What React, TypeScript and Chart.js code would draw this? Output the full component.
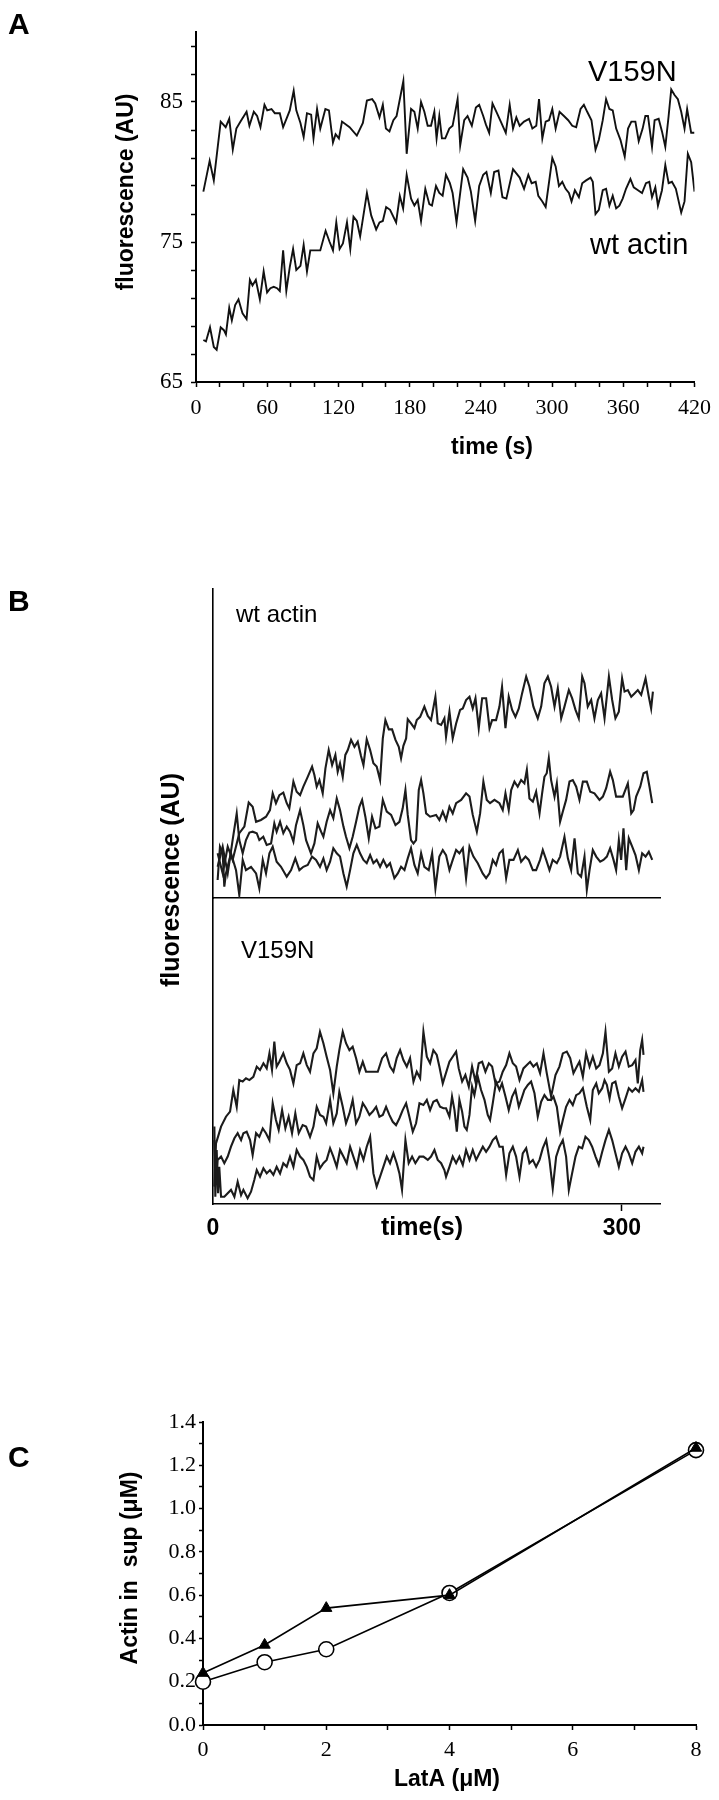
import React, { useEffect, useRef } from 'react';
import { Chart, registerables } from 'chart.js';

Chart.register(...registerables);

const SERIF = '"Liberation Serif", "Times New Roman", serif';
const SANS = '"Liberation Sans", Arial, Helvetica, sans-serif';

// ---------------- Panel A: fluorescence (AU) vs time (s) ----------------
const aV159NTime = [6.2,11.5,15,20.8,25,28,31,34,37.5,42.6, 45,48.7,51.5,54.3,57.7,60,63.6,66.4,68,70.6, 73.4,76.7,79,82.3,84.5,88,90.7,93.5,97,99, 102,104.7,109,112,115.4,117.6,120.4,123,129.4,135.5, 140.6,144,148.4,151,154.6,157.4,160,163,166.3,169, 174.7,177.5,181.2,184,186.8,189.6,192.4,195.2,198,200.8, 202.7,205,207.2,210,213.4,216.2,220.4,222.6,226,228.8, 232.4,235.8,238.6,242,244.2,247,249.8,253.1,256.8,261, 264.3,267.1,269.9,272.7,276.4,280.6,283.4,286.7,289,291.8, 294.6,297.4,300.2,303,306.3,310,313.6,317,320.3,324, 326.8,329.6,333.2,336.6,339.4,342.7,345.5,348.3,351.1,354, 357.6,361.2,364,366.8,370.2,373,376.3,378.6,380.8,384.2, 386.4,389.8,392.6,395.4,398.2,400.4,403.2,406,408.8,411.6, 413.8,417.2,420];
const aV159NValue = [78.6,80.8,79.4,83.6,83.2,83.8,81.6,83.1,83.6,84.3, 83.3,84.3,84.0,83.2,84.8,84.4,84.5,84.2,84.2,84.2, 83.2,83.9,84.4,85.8,84.4,83.5,82.5,84.2,84.1,82.4, 84.5,83.1,84.5,84.4,82.1,82.7,82.4,83.6,83.2,82.6, 83.5,85.1,85.2,84.9,83.9,84.8,83.1,82.9,83.7,84.0, 86.5,81.3,84.5,84.3,83.1,85.0,84.3,83.3,83.3,84.3, 82.4,84.0,82.4,82.4,83.1,83.3,85.2,81.9,83.7,84.0, 83.3,84.6,84.8,84.0,83.4,82.8,84.9,84.3,83.6,82.8, 84.8,83.1,83.9,83.3,83.6,83.8,83.1,83.3,85.2,82.4, 83.6,83.7,84.5,83.1,84.3,84.0,83.7,83.3,83.2,84.5, 84.8,84.3,83.7,81.6,82.3,83.7,85.2,84.5,84.4,83.1, 82.3,81.1,83.1,83.6,83.6,82.2,83.1,84.0,84.0,81.8, 83.7,83.8,82.9,81.8,84.0,85.9,85.5,85.2,84.3,83.1, 84.5,82.8,82.8];
const aWtTime = [6.2,8.4,11.8,15,17.4,20.8,23.5,25.2,28,30.2, 33,35.8,39.2,42.6,45.4,47.6,50.4,53.8,57,59.9, 62.7,65.5,68.3,70.6,73.4,76.1,79,81.8,84.5,88, 90.7,93.5,96.3,104.7,109.2,112.6,115.4,118.2,121,123.8, 127.2,130,132.7,135.5,138.3,144,147.6,151.8,154.6,157.4, 160.2,163.5,168.6,171.7,174.5,177.5,181.2,184,186.8,189.6, 193.2,196.6,198.8,202.2,205,207.8,210.6,213.9,216.2,219.5, 225.1,228.8,231.6,235.2,238.6,242,244.7,248.4,251.2,254.8, 258.2,261.5,267.1,269.9,272.7,276.4,280,282.8,286.2,288.4, 291.8,294.6,300.2,303,305.8,308.6,311.4,314.2,316.4,319.2, 322.6,325.4,328.7,332.4,334.3,336.6,339.4,342.7,345.5,348.3, 351.1,354,356.7,359.5,362.3,366,368.8,372.4,375.8,379.1, 381.9,384.2,387,389.2,392.6,395.4,398.2,401,404.3,408.8, 411.6,414.4,417.2,420];
const aWtValue = [68.0,67.9,68.9,67.5,67.3,68.9,68.7,68.4,70.3,69.4, 70.5,70.9,69.9,69.5,72.3,71.9,72.3,70.9,72.9,71.4, 71.7,71.8,71.7,71.5,74.4,71.5,73.2,74.5,73.0,73.3, 74.8,72.9,74.4,74.4,75.8,75.0,74.4,76.4,74.5,74.9, 76.4,74.5,76.8,76.5,75.4,78.5,76.9,75.9,76.4,76.5, 77.5,77.3,76.4,78.3,77.4,79.8,78.1,77.6,78.0,76.5, 78.8,77.7,77.6,79.0,78.5,78.3,79.8,79.2,78.5,76.4, 80.2,79.6,78.6,76.5,79.0,79.8,80.0,78.5,80.0,80.1, 78.2,78.1,80.2,79.9,79.6,78.8,79.8,79.2,79.3,78.3, 77.9,77.5,81.0,80.4,79.0,79.3,78.8,78.5,77.9,78.7, 78.2,79.2,79.4,79.6,79.3,77.0,77.3,78.7,78.8,77.6, 78.3,77.4,77.6,78.1,78.8,79.5,78.9,78.7,78.5,79.2, 79.3,78.2,78.9,77.6,78.7,80.5,79.2,79.3,78.8,77.1, 77.9,81.3,80.7,78.6];
const aXTicks = [0,20,40,60,80,100,120,140,160,180,200,220,240,260,280,300,320,340,360,380,400,420];
const aXLabels = [0,60,120,180,240,300,360,420];
const aYTicks = [65,67,69,71,73,75,77,79,81,83,85,87,89];
const aYLabels = [65,75,85];

// ---------------- Panel B: wt actin (top) ----------------
const bWtHighTime = [3.4,7.1,10.8,14.4,19.3,23.0,26.2,29.1,31.6,35.2, 38.9,41.8,43.8,46.2,48.7,51.6,54.1,56.0,59.0,61.4, 63.9,66.3,69.5,72.7,74.4,76.1,78.1,80.5,82.5,84.9, 87.4,89.8,91.5,93.2,95.2,97.1,98.9,101.3,103.8,106.2, 108.6,110.4,112.8,115.3,117.7,120.1,122.6,124.6,126.5,129.0, 131.4,133.9,136.3,138.0,139.7,141.7,142.9,145.3,147.8,149.5, 152.0,155.1,157.6,160.0,163.2,164.9,167.4,169.8,171.0,173.5, 175.9,178.4,181.3,183.3,185.7,188.2,190.6,192.6,195.0,197.5, 200.4,202.9,204.8,207.7,210.2,212.1,214.6,217.0,219.5,221.9, 224.4,226.8,229.8,232.2,235.1,238.3,240.8,243.2,245.7,248.1, 250.6,253.0,255.5,257.9,261.1,263.5,266.0,268.4,270.9,272.6, 275.0,277.5,279.9,282.4,284.8,287.3,290.5,292.9,295.3,297.8, 300.2,302.0,304.4,306.9,309.3,311.7,314.2,317.4,319.8,321.5, 322.8];
const bWtHighValue = [14.9,8.2,17.1,12.7,21.6,23.8,31.8,30.4,25.4,26.0, 27.1,29.3,34.9,31.6,34.3,35.1,31.6,29.9,38.8,35.4, 34.3,37.1,40.4,43.8,41.0,37.1,39.3,34.9,43.2,49.3, 44.3,47.7,42.1,44.9,40.4,47.7,49.3,52.7,50.4,52.1, 47.3,44.3,52.9,49.3,44.9,43.8,39.3,53.2,59.3,56.2, 56.2,52.7,50.4,46.6,50.7,53.2,59.6,58.2,56.6,59.3, 60.4,63.8,60.7,59.3,67.1,58.2,57.7,59.9,53.8,62.1, 53.2,58.2,62.7,63.2,66.0,67.1,63.2,66.6,56.6,66.6, 66.6,56.6,59.3,59.3,63.8,70.4,56.6,67.1,62.7,60.4, 63.2,68.2,73.8,70.4,63.8,59.9,63.8,71.6,73.8,70.4, 63.8,69.9,59.9,63.8,69.3,66.6,62.7,59.9,73.8,71.6, 63.8,66.0,59.9,66.0,68.2,59.9,73.8,66.0,59.9,62.1, 73.2,68.8,69.3,67.1,68.2,69.3,67.7,73.2,67.1,63.2, 68.8];
const bWtMidTime = [3.4,7.1,10.8,14.4,17.4,19.3,21.8,24.2,26.7,29.1, 32.1,34.0,36.9,39.4,42.6,45.0,46.7,49.2,51.6,54.1, 56.5,59.0,60.9,63.9,66.3,68.3,71.9,74.4,76.8,79.3, 81.0,83.4,85.9,88.3,90.8,93.2,95.7,97.6,100.1,102.5, 105.0,107.4,109.4,111.8,114.3,116.7,119.2,122.1,124.6,127.5, 130.7,133.9,136.8,139.2,141.2,142.9,145.3,147.1,149.0,151.0, 152.7,154.4,156.4,159.3,163.7,166.1,168.6,171.0,173.5,175.9, 178.4,182.1,185.7,188.2,190.6,193.6,196.0,198.4,200.9,203.3, 206.5,210.2,212.6,214.6,217.0,218.8,221.2,223.6,226.1,228.5, 230.3,232.2,234.7,237.1,239.6,241.5,243.2,244.9,246.4,248.1, 250.6,252.3,254.7,256.7,259.1,261.6,264.0,266.5,268.9,271.4, 274.3,276.8,279.9,283.6,286.1,288.5,291.4,293.4,295.8,298.3, 300.7,304.4,306.9,308.6,310.5,313.5,315.9,318.3,320.3,322.3];
const bWtMidValue = [10.4,17.1,8.2,19.3,28.2,19.3,14.9,19.3,21.8,22.1, 21.6,19.3,20.4,17.7,18.2,24.9,22.1,25.4,21.6,23.8, 22.1,18.8,24.3,29.3,24.3,19.3,14.9,18.2,24.9,22.1, 20.4,25.4,29.3,26.6,33.2,29.3,23.8,20.4,16.6,20.4, 25.4,30.4,32.7,27.1,19.9,27.1,23.2,23.8,32.7,28.8, 27.7,24.3,25.4,29.9,36.0,27.7,19.3,18.2,19.3,36.0, 39.3,34.9,28.2,27.1,27.7,26.0,28.8,26.0,30.4,28.2, 31.6,32.7,34.9,33.8,27.7,22.1,28.2,38.8,32.7,31.6, 32.7,31.6,29.3,34.9,29.3,36.0,38.8,37.1,39.3,38.2, 42.7,33.2,32.1,35.4,28.2,34.9,40.4,41.6,46.6,39.3, 33.8,38.2,25.4,28.8,32.7,38.8,39.3,37.1,32.7,38.8, 38.8,35.4,34.9,32.7,33.8,36.6,42.1,39.3,33.8,33.8, 33.8,38.2,28.2,29.3,33.8,37.1,41.6,42.1,37.1,31.6];
const bWtLowTime = [3.4,5.1,7.1,8.3,9.5,13.2,16.9,19.3,21.8,24.2, 27.9,31.6,34.0,36.5,38.9,41.4,43.8,46.7,49.9,54.1, 57.3,60.4,63.4,66.3,69.5,72.7,75.6,78.5,81.0,83.4, 85.9,88.3,90.8,93.2,95.7,98.1,100.6,103.0,105.5,107.9, 110.4,112.8,115.3,117.7,120.1,122.6,125.0,127.5,129.9,133.1, 135.6,138.0,140.5,142.9,145.3,147.8,150.2,152.7,155.1,158.3, 160.8,163.2,166.1,168.6,171.0,173.5,175.9,178.4,180.8,183.3, 185.7,188.2,191.1,194.3,197.9,200.4,202.9,205.3,207.7,210.2, 212.6,215.1,217.5,220.5,223.7,226.1,229.3,231.7,234.7,237.1, 240.0,242.0,244.5,246.9,249.3,252.3,254.7,257.9,260.4,262.8, 265.3,267.7,270.1,272.6,274.3,276.3,278.7,281.2,284.1,286.5, 289.0,291.4,293.9,295.8,297.8,299.5,301.2,303.2,305.1,307.6, 310.0,312.5,314.9,317.4,319.8,322.3];
const bWtLowValue = [6.0,17.1,14.9,3.8,8.2,14.9,9.3,1.0,12.7,9.3, 10.4,8.2,3.2,12.7,8.2,14.9,17.1,12.1,10.4,7.1, 9.3,13.2,9.3,10.4,11.0,13.8,12.7,10.4,13.2,9.3, 12.1,16.6,14.9,13.8,8.2,3.8,9.3,14.9,17.7,14.9, 12.7,11.6,14.3,11.6,12.7,10.4,12.7,10.4,11.6,6.6, 8.2,10.4,9.3,13.2,16.6,11.0,8.2,14.9,10.4,9.3, 14.9,3.2,13.8,16.0,14.3,9.3,12.7,16.0,14.9,16.6, 6.6,17.1,13.8,11.6,8.2,6.6,8.2,12.7,11.0,14.9, 16.0,6.6,12.7,12.7,16.0,12.1,13.8,12.7,9.3,9.3, 12.7,16.0,12.7,9.3,12.7,11.6,13.8,20.4,13.2,9.3, 19.9,8.2,7.1,13.8,2.7,9.3,16.0,13.8,12.1,12.7, 13.8,16.6,12.7,9.3,19.3,12.7,23.2,9.3,19.9,17.1, 14.3,9.3,14.9,13.8,15.4,12.7];

// ---------------- Panel B: V159N (bottom) ----------------
const bMutHighTime = [1.0,2.2,5.9,9.5,12.5,14.9,17.4,19.3,21.8,24.2, 26.7,29.6,32.1,34.5,37.0,39.4,41.4,43.3,45.0,46.7, 48.7,51.6,54.1,56.5,59.0,61.4,63.9,66.3,68.8,71.2, 73.7,76.1,78.5,81.0,83.4,85.9,88.3,90.8,92.7,95.2, 97.6,100.1,102.5,105.0,107.4,109.9,112.3,117.2,120.9,124.1, 127.0,129.9,132.4,134.8,137.3,139.7,142.2,144.6,147.1,149.5, 152.0,154.4,156.9,159.3,161.7,164.2,166.1,168.6,173.5,175.9, 178.4,180.3,182.8,185.2,187.7,190.1,192.6,195.0,197.5,199.9, 202.4,204.8,207.3,210.2,212.6,215.1,217.5,220.0,222.4,224.9, 227.8,230.3,232.7,235.1,237.6,240.0,242.5,244.9,248.1,251.3, 254.2,256.7,259.6,262.1,264.5,267.0,268.9,271.4,273.8,276.3, 278.7,281.2,283.6,286.1,288.0,290.5,292.9,295.3,297.8,300.2, 302.7,305.1,307.6,310.0,311.7,313.5,314.9,315.9];
const bMutHighValue = [5.8,20.2,25.8,29.1,30.8,38.0,32.4,41.3,40.8,41.9, 41.3,42.4,45.8,44.7,46.9,45.2,50.2,44.7,54.1,45.8, 47.4,50.2,46.9,44.7,40.2,46.3,46.9,50.2,46.3,44.1, 50.2,51.9,57.4,53.6,49.1,44.7,36.9,45.8,51.3,57.4, 53.6,51.3,52.4,48.6,44.1,47.4,44.1,44.1,44.1,48.6, 50.2,45.8,44.1,48.6,51.3,48.0,45.8,48.6,40.8,44.1, 41.9,57.4,49.1,46.9,51.3,49.7,45.8,40.2,47.4,49.1, 50.8,45.2,40.8,43.0,39.1,45.8,40.8,46.9,47.4,44.1, 46.9,45.8,40.2,40.8,44.1,46.3,50.2,46.9,45.8,41.3, 45.2,46.3,47.4,45.8,46.9,43.6,50.2,43.6,35.8,43.0, 45.8,50.2,50.8,48.6,43.6,45.8,47.4,42.4,50.2,45.8, 49.1,45.2,46.3,50.2,57.4,44.1,45.2,50.2,45.8,49.1, 50.8,45.8,46.3,48.0,40.2,51.3,54.7,49.7];
const bMutMidTime = [1.0,2.2,3.4,5.9,8.3,10.8,13.2,15.7,18.1,20.6, 22.3,24.7,27.2,29.1,31.6,34.0,36.5,38.9,41.4,43.8, 46.2,48.2,50.7,53.1,55.5,58.0,60.4,62.9,65.8,68.3, 71.2,73.7,76.1,78.5,81.0,83.0,85.9,88.3,90.8,92.7, 95.2,97.6,100.1,102.5,105.0,107.4,109.9,112.3,114.8,117.2, 119.7,122.1,124.6,127.0,129.4,131.9,134.3,136.8,139.2,141.7, 144.1,146.6,149.0,151.5,154.4,156.9,159.3,161.7,164.2,166.6, 169.1,171.0,173.5,175.4,177.2,178.9,180.8,182.8,184.5,186.2, 188.2,190.1,191.8,194.3,196.7,199.2,201.6,203.3,205.3,207.7, 210.2,212.1,214.6,217.0,219.5,221.9,224.4,226.1,228.5,231.0, 233.4,235.9,238.3,240.8,243.2,245.7,248.1,249.8,252.3,254.7, 256.7,259.1,261.6,264.0,266.5,268.9,271.4,274.3,276.8,278.7, 281.2,283.1,285.6,287.3,289.0,291.0,292.9,295.3,297.8,300.2, 302.7,305.1,307.6,310.0,312.5,314.9,315.9];
const bMutMidValue = [21.3,8.0,14.7,15.8,13.6,15.8,19.1,21.9,23.6,21.3, 23.6,24.1,21.3,16.3,23.6,22.4,25.2,23.6,21.3,33.6, 28.0,24.7,31.3,25.2,29.1,23.6,30.2,23.6,26.3,25.8, 22.4,25.8,32.4,29.7,29.1,26.9,34.7,26.9,30.2,37.4, 32.4,26.9,30.2,34.7,26.9,29.1,33.6,31.9,29.7,30.8, 32.4,29.1,29.7,32.4,29.7,27.4,26.3,28.6,31.3,33.6, 29.1,24.1,26.9,33.6,33.0,34.7,31.3,34.1,34.7,32.4, 31.9,31.9,29.1,35.8,31.3,24.1,34.7,30.8,25.8,24.7, 29.7,39.1,36.3,42.4,38.0,34.7,29.7,28.0,33.6,40.8, 38.0,40.2,35.8,31.3,35.8,38.0,32.4,34.7,38.0,39.7, 40.8,36.9,29.1,34.1,36.3,34.7,34.7,35.8,32.4,24.1, 28.0,32.4,34.7,33.0,36.3,36.9,38.6,32.4,28.0,38.0, 40.2,36.9,38.6,41.3,39.7,35.2,40.2,40.8,35.8,31.9, 35.2,38.6,37.4,38.6,37.4,41.3,37.4];
const bMutLowTime = [1.0,1.7,2.7,3.7,4.6,5.9,8.3,10.8,13.2,15.7, 18.1,20.6,22.3,25.4,27.9,30.3,32.1,34.5,37.0,39.4, 41.8,44.3,46.7,49.2,51.6,54.1,56.5,59.0,61.4,63.9, 66.3,68.8,71.2,73.7,76.1,78.5,81.0,83.4,85.9,88.3, 90.8,93.2,95.7,98.1,100.6,103.0,105.5,107.9,110.4,112.8, 115.3,117.7,120.1,122.6,125.0,127.5,129.9,132.4,134.8,136.8, 138.7,141.2,143.6,146.1,148.5,151.5,154.4,157.6,160.0,162.5, 164.9,167.4,169.8,171.0,173.5,175.9,178.4,180.8,183.3,185.7, 188.2,190.6,193.1,195.5,198.0,200.4,202.9,205.3,207.7,210.2, 212.6,215.1,217.5,220.0,222.4,224.9,227.3,229.8,232.2,234.7, 237.1,239.6,242.0,244.5,246.9,249.3,251.8,254.2,256.7,259.1, 261.1,263.5,266.0,268.4,270.9,273.3,275.8,278.2,280.7,283.1, 285.6,288.0,290.5,292.9,295.3,297.8,300.2,302.7,305.1,307.6, 310.0,312.5,314.9,315.9];
const bMutLowValue = [25.8,2.4,18.0,3.6,12.4,2.4,2.4,3.6,4.7,2.4, 7.4,3.0,4.7,1.9,4.1,8.0,11.3,9.1,11.9,10.2, 11.3,9.7,12.4,10.2,13.6,12.4,15.8,12.4,18.0,15.8, 14.7,12.4,9.1,8.0,15.8,11.9,13.6,14.7,18.6,15.8, 12.4,18.0,15.8,13.6,19.1,15.8,12.4,18.0,14.7,19.1, 22.4,10.2,5.8,9.1,12.4,15.8,13.6,16.9,13.6,10.2, 4.7,21.3,13.6,15.8,13.6,15.8,15.8,14.7,15.8,18.0, 14.7,13.6,11.3,9.1,12.4,15.8,13.6,15.8,13.0,18.0, 14.7,18.0,14.7,16.9,19.1,17.4,19.1,21.3,22.4,19.1, 19.1,9.7,16.9,19.1,15.8,9.1,16.9,18.6,13.6,14.7, 12.4,14.7,18.6,21.3,14.7,5.2,15.8,19.1,21.3,15.8, 4.7,10.2,15.8,19.1,18.6,22.4,21.3,19.1,15.8,13.0, 17.4,21.3,24.7,21.3,16.9,12.4,16.9,19.1,16.9,13.6, 17.4,19.1,16.9,19.1];
const bXTicks = [0, 300];

// ---------------- Panel C: Actin in sup (uM) vs LatA (uM) ----------------
const cLatA = [0, 1, 2, 4, 8];
const cTriangle = [0.24, 0.37, 0.54, 0.60, 1.28];
const cCircle = [0.20, 0.29, 0.35, 0.61, 1.27];
const cXTicks = [0, 1, 2, 3, 4, 5, 6, 7, 8];
const cXLabels = [0, 2, 4, 6, 8];
const cYTicks = [0, 0.1, 0.2, 0.3, 0.4, 0.5, 0.6, 0.7, 0.8, 0.9, 1.0, 1.1, 1.2, 1.3, 1.4];
const cYLabels = [0, 0.2, 0.4, 0.6, 0.8, 1.0, 1.2, 1.4];

// ---------------- helpers ----------------
const xyPoints = (xs: number[], ys: number[]) => {
  const n = Math.min(xs.length, ys.length);
  const out: { x: number; y: number }[] = [];
  for (let i = 0; i < n; i++) out.push({ x: xs[i], y: ys[i] });
  return out;
};
const hasVal = (list: number[], v: number) => list.some((t) => Math.abs(t - v) < 1e-6);

type TextItem = {
  text: string; x: number; y: number; font: string;
  align?: CanvasTextAlign; baseline?: CanvasTextBaseline; rotate?: number;
};
const makeTextPlugin = (items: TextItem[]) => ({
  id: 'pageText',
  afterDraw(chart: any) {
    const ctx = chart.ctx as CanvasRenderingContext2D;
    items.forEach((it) => {
      ctx.save();
      ctx.fillStyle = '#000';
      ctx.font = it.font;
      ctx.textAlign = it.align || 'left';
      ctx.textBaseline = it.baseline || 'alphabetic';
      ctx.translate(it.x, it.y);
      if (it.rotate) ctx.rotate(it.rotate);
      ctx.fillText(it.text, 0, 0);
      ctx.restore();
    });
  },
});

const traceDataset = (xs: number[], ys: number[], color: string, width: number) => ({
  data: xyPoints(xs, ys),
  showLine: true,
  borderColor: color,
  borderWidth: width,
  borderJoinStyle: 'miter',
  pointRadius: 0,
  pointHoverRadius: 0,
  tension: 0,
  fill: false,
});

const baseOptions = {
  animation: false,
  responsive: false,
  maintainAspectRatio: false,
  devicePixelRatio: 1,
  events: [] as any[],
  plugins: { legend: { display: false }, tooltip: { enabled: false } },
};

// ---------------- chart configs ----------------
const A_TOP = 0, A_H = 470;
function configA(): any {
  const t = A_TOP;
  return {
    type: 'scatter',
    data: {
      datasets: [
        traceDataset(aV159NTime, aV159NValue, '#111', 1.9),
        traceDataset(aWtTime, aWtValue, '#111', 1.9),
      ],
    },
    options: {
      ...baseOptions,
      layout: { padding: { top: 32, right: 22, left: 0, bottom: 0 } },
      scales: {
        x: {
          type: 'linear', min: 0, max: 420,
          afterBuildTicks: (s: any) => { s.ticks = aXTicks.map((v) => ({ value: v })); },
          afterFit: (s: any) => { s.height = 88; },
          grid: { drawOnChartArea: false, drawTicks: true, tickLength: 5, tickWidth: 1.5, tickColor: '#000' },
          border: { display: true, color: '#000', width: 2 },
          ticks: {
            autoSkip: false, maxRotation: 0, minRotation: 0, padding: 8, color: '#000',
            font: { family: SERIF, size: 22 },
            callback: (v: any) => (hasVal(aXLabels, Number(v)) ? String(v) : ''),
          },
        },
        y: {
          type: 'linear', min: 65, max: 90,
          afterBuildTicks: (s: any) => { s.ticks = aYTicks.map((v) => ({ value: v })); },
          afterFit: (s: any) => { s.width = 196; },
          grid: { drawOnChartArea: false, drawTicks: true, tickLength: 5, tickWidth: 1.5, tickColor: '#000' },
          border: { display: true, color: '#000', width: 2 },
          ticks: {
            autoSkip: false, padding: 8, color: '#000',
            font: { family: SERIF, size: 23 },
            callback: (v: any) => (hasVal(aYLabels, Number(v)) ? String(v) : ''),
          },
        },
      },
    },
    plugins: [
      makeTextPlugin([
        { text: 'A', x: 8, y: 34 - t, font: `bold 30px ${SANS}` },
        { text: 'V159N', x: 588, y: 81 - t, font: `29px ${SANS}` },
        { text: 'wt actin', x: 590, y: 254 - t, font: `29px ${SANS}` },
        { text: 'time (s)', x: 492, y: 448 - t, font: `bold 23px ${SANS}`, align: 'center', baseline: 'middle' },
        { text: 'fluorescence (AU)', x: 127, y: 192 - t, font: `bold 23px ${SANS}`, align: 'center', baseline: 'middle', rotate: -Math.PI / 2 },
      ]),
    ],
  };
}

const B1_TOP = 560, B1_H = 340;
function configBTop(): any {
  const t = B1_TOP;
  return {
    type: 'scatter',
    data: {
      datasets: [
        traceDataset(bWtHighTime, bWtHighValue, '#1c1c1c', 2.1),
        traceDataset(bWtMidTime, bWtMidValue, '#1c1c1c', 2.1),
        traceDataset(bWtLowTime, bWtLowValue, '#1c1c1c', 2.1),
      ],
    },
    options: {
      ...baseOptions,
      layout: { padding: { top: 29, right: 59, left: 0, bottom: 0 } },
      scales: {
        x: {
          type: 'linear', min: 0, max: 328,
          afterFit: (s: any) => { s.height = 2; },
          grid: { display: false },
          border: { display: true, color: '#000', width: 1.6 },
          ticks: { display: false },
        },
        y: {
          type: 'linear', min: 0, max: 103,
          afterFit: (s: any) => { s.width = 213; },
          grid: { display: false },
          border: { display: true, color: '#000', width: 1.6 },
          ticks: { display: false },
        },
      },
    },
    plugins: [
      makeTextPlugin([
        { text: 'B', x: 8, y: 611 - t, font: `bold 30px ${SANS}` },
        { text: 'wt actin', x: 236, y: 622 - t, font: `24px ${SANS}` },
      ]),
    ],
  };
}

const B2_TOP = 740, B2_H = 530;
function configBBottom(): any {
  const t = B2_TOP;
  return {
    type: 'scatter',
    data: {
      datasets: [
        traceDataset(bMutHighTime, bMutHighValue, '#1c1c1c', 2.1),
        traceDataset(bMutMidTime, bMutMidValue, '#1c1c1c', 2.1),
        traceDataset(bMutLowTime, bMutLowValue, '#1c1c1c', 2.1),
      ],
    },
    options: {
      ...baseOptions,
      layout: { padding: { top: 158, right: 59, left: 0, bottom: 0 } },
      scales: {
        x: {
          type: 'linear', min: 0, max: 328,
          afterBuildTicks: (s: any) => { s.ticks = bXTicks.map((v) => ({ value: v })); },
          afterFit: (s: any) => { s.height = 66; },
          grid: {
            drawOnChartArea: false, drawTicks: true, tickLength: 7, tickWidth: 1.5,
            tickColor: (ctx: any) => (ctx.tick && ctx.tick.value === 0 ? 'rgba(0,0,0,0)' : '#000'),
          },
          border: { display: true, color: '#000', width: 1.6 },
          ticks: {
            autoSkip: false, maxRotation: 0, minRotation: 0, padding: 4, color: '#000',
            font: { family: SANS, size: 23, weight: 'bold' },
            callback: (v: any) => String(v),
          },
        },
        y: {
          type: 'linear', min: 0, max: 102,
          afterFit: (s: any) => { s.width = 213; },
          grid: { display: false },
          border: { display: true, color: '#000', width: 1.6 },
          ticks: { display: false },
        },
      },
    },
    plugins: [
      makeTextPlugin([
        { text: 'V159N', x: 241, y: 958 - t, font: `24px ${SANS}` },
        { text: 'fluorescence (AU)', x: 172, y: 880 - t, font: `bold 25px ${SANS}`, align: 'center', baseline: 'middle', rotate: -Math.PI / 2 },
        { text: 'time(s)', x: 422, y: 1228 - t, font: `bold 25px ${SANS}`, align: 'center', baseline: 'middle' },
      ]),
    ],
  };
}

const C_TOP = 1390, C_H = 410;
function configC(): any {
  const t = C_TOP;
  return {
    type: 'scatter',
    data: {
      datasets: [
        {
          data: xyPoints(cLatA, cTriangle), showLine: true, order: 0, clip: false,
          borderColor: '#000', borderWidth: 1.6, backgroundColor: '#000',
          pointStyle: 'triangle', pointRadius: 6.5, pointBorderWidth: 1, pointBackgroundColor: '#000', pointBorderColor: '#000',
          tension: 0,
        },
        {
          data: xyPoints(cLatA, cCircle), showLine: true, order: 1, clip: false,
          borderColor: '#000', borderWidth: 1.6, backgroundColor: '#fff',
          pointStyle: 'circle', pointRadius: 7.5, pointBorderWidth: 1.6, pointBackgroundColor: '#fff', pointBorderColor: '#000',
          tension: 0,
        },
      ],
    },
    options: {
      ...baseOptions,
      layout: { padding: { top: 32, right: 23, left: 0, bottom: 0 } },
      scales: {
        x: {
          type: 'linear', min: 0, max: 8,
          afterBuildTicks: (s: any) => { s.ticks = cXTicks.map((v) => ({ value: v })); },
          afterFit: (s: any) => { s.height = 75; },
          grid: { drawOnChartArea: false, drawTicks: true, tickLength: 5, tickWidth: 1.5, tickColor: '#000' },
          border: { display: true, color: '#000', width: 2 },
          ticks: {
            autoSkip: false, maxRotation: 0, minRotation: 0, padding: 7, color: '#000',
            font: { family: SERIF, size: 22 },
            callback: (v: any) => (hasVal(cXLabels, Number(v)) ? String(v) : ''),
          },
        },
        y: {
          type: 'linear', min: 0, max: 1.4,
          afterBuildTicks: (s: any) => { s.ticks = cYTicks.map((v) => ({ value: v })); },
          afterFit: (s: any) => { s.width = 203; },
          grid: { drawOnChartArea: false, drawTicks: true, tickLength: 4, tickWidth: 1.5, tickColor: '#000' },
          border: { display: true, color: '#000', width: 2 },
          ticks: {
            autoSkip: false, padding: 3, color: '#000',
            font: { family: SERIF, size: 22 },
            callback: (v: any) => (hasVal(cYLabels, Number(v)) ? Number(v).toFixed(1) : ''),
          },
        },
      },
    },
    plugins: [
      makeTextPlugin([
        { text: 'C', x: 8, y: 1467 - t, font: `bold 30px ${SANS}` },
        { text: 'Actin in  sup (\u03BCM)', x: 131, y: 1568 - t, font: `bold 23px ${SANS}`, align: 'center', baseline: 'middle', rotate: -Math.PI / 2 },
        { text: 'LatA (\u03BCM)', x: 447, y: 1780 - t, font: `bold 23px ${SANS}`, align: 'center', baseline: 'middle' },
      ]),
    ],
  };
}

function ChartCanvas({ top, height, build }: { top: number; height: number; build: () => any }) {
  const ref = useRef<HTMLCanvasElement | null>(null);
  useEffect(() => {
    if (!ref.current) return;
    const chart = new Chart(ref.current, build());
    return () => chart.destroy();
  }, []);
  return (
    <canvas
      ref={ref}
      width={719}
      height={height}
      style={{ position: 'absolute', left: 0, top, width: 719, height, display: 'block' }}
    />
  );
}

export default function App() {
  return (
    <div style={{ position: 'absolute', left: 0, top: 0, width: 719, height: 1800, background: '#fff', overflow: 'hidden' }}>
      <ChartCanvas top={A_TOP} height={A_H} build={configA} />
      <ChartCanvas top={B1_TOP} height={B1_H} build={configBTop} />
      <ChartCanvas top={B2_TOP} height={B2_H} build={configBBottom} />
      <ChartCanvas top={C_TOP} height={C_H} build={configC} />
    </div>
  );
}
